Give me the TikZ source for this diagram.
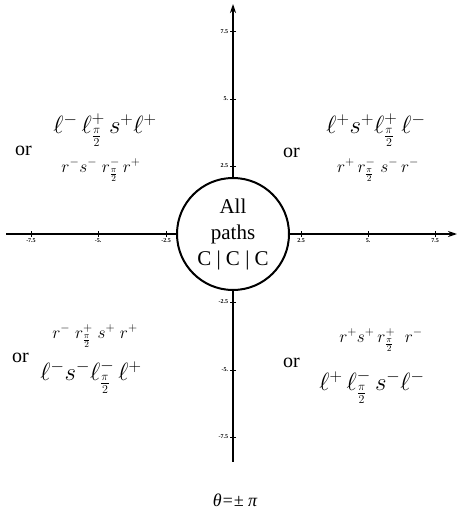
\documentclass[tikz,border=0pt]{standalone}
\usepackage{fontspec}
\setmainfont{Liberation Serif}
\usepackage{amsmath}
\usetikzlibrary{arrows.meta}

\begin{document}
\begin{tikzpicture}[
  x=1pt, y=-1pt,
  axis/.style={line width=1.6pt},
  arrow/.style={-{Stealth[length=9pt, width=6pt]}, line width=1.6pt},
  tick/.style={line width=1pt},
  ticklabel/.style={font=\fontsize{6}{7}\selectfont\bfseries, inner sep=1.5pt},
  hub/.style={draw, circle, line width=2pt, minimum size=112pt, fill=white, align=center, font=\fontsize{21}{26}\selectfont, inner sep=0pt},
  ortag/.style={font=\fontsize{20}{24}\selectfont, inner sep=0pt},
  seqbig/.style={font=\fontsize{26}{30}\selectfont, inner sep=0pt},
  seqsmall/.style={font=\fontsize{18}{22}\selectfont, inner sep=0pt},
  caption/.style={font=\fontsize{18}{22}\selectfont\itshape, inner sep=0pt}
]
\useasboundingbox (0,0) rectangle (461,519);

% Axes through the centre circle
\node[hub] (hub) at (233,234) {All\\paths\\C | C | C};
\coordinate (xl) at (6,234);
\coordinate (xr) at (457,234);
\coordinate (yt) at (233,4);
\coordinate (yb) at (233,462);

\draw[axis] (xl) -- (hub.west);
\draw[arrow] (hub.east) -- (xr);
\draw[arrow] (hub.north) -- (yt);
\draw[axis] (hub.south) -- (yb);

% Ticks on the horizontal axis
\draw[tick] (31,231) -- (31,237) node[ticklabel, below] {-7.5};
\draw[tick] (98,231) -- (98,237) node[ticklabel, below] {-5.};
\draw[tick] (166,231) -- (166,237) node[ticklabel, below] {-2.5};
\draw[tick] (301,231) -- (301,237) node[ticklabel, below] {2.5};
\draw[tick] (368,231) -- (368,237) node[ticklabel, below] {5.};
\draw[tick] (435,231) -- (435,237) node[ticklabel, below] {7.5};

% Ticks on the vertical axis
\draw[tick] (236,32) -- (230,32) node[ticklabel, left] {7.5};
\draw[tick] (236,99) -- (230,99) node[ticklabel, left] {5.};
\draw[tick] (236,166) -- (230,166) node[ticklabel, left] {2.5};
\draw[tick] (236,302) -- (230,302) node[ticklabel, left] {-2.5};
\draw[tick] (236,370) -- (230,370) node[ticklabel, left] {-5.};
\draw[tick] (236,437) -- (230,437) node[ticklabel, left] {-7.5};

% Quadrant II
\node[seqbig] (q2a) at (105,130) {$\ell^{-}\,\ell^{+}_{\frac{\pi}{2}}\,s^{+}\ell^{+}$};
\node[ortag, anchor=base west] (q2or) at (15,155) {or};
\node[seqsmall] (q2b) at (101,170) {$r^{-}s^{-}\;r^{-}_{\frac{\pi}{2}}\,r^{+}$};

% Quadrant I
\node[seqbig] (q1a) at (376,130) {$\ell^{+}s^{+}\ell^{+}_{\frac{\pi}{2}}\,\ell^{-}$};
\node[ortag, anchor=base west] (q1or) at (283,157) {or};
\node[seqsmall] (q1b) at (378,170) {$r^{+}\,r^{-}_{\frac{\pi}{2}}\;s^{-}\,r^{-}$};

% Quadrant III
\node[seqsmall] (q3a) at (95,336) {$r^{-}\;r^{+}_{\frac{\pi}{2}}\;s^{+}\;r^{+}$};
\node[ortag, anchor=base west] (q3or) at (12,362) {or};
\node[seqbig] (q3b) at (91,377) {$\ell^{-}s^{-}\ell^{-}_{\frac{\pi}{2}}\,\ell^{+}$};

% Quadrant IV
\node[seqsmall] (q4a) at (381,340) {$r^{+}s^{+}\,r^{+}_{\frac{\pi}{2}}\;\;r^{-}$};
\node[ortag, anchor=base west] (q4or) at (283,367) {or};
\node[seqbig] (q4b) at (372,387) {$\ell^{+}\,\ell^{-}_{\frac{\pi}{2}}\,s^{-}\ell^{-}$};

% Caption
\node[caption] (theta) at (235,500) {θ=± π};

\end{tikzpicture}
\end{document}
